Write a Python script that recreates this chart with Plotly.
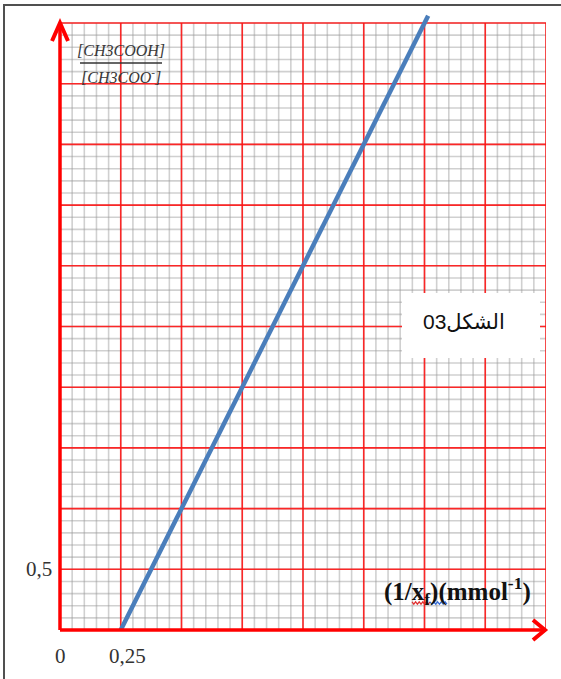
import numpy as np
import plotly.graph_objects as go

# Measured relation: ratio [CH3COOH]/[CH3COO-] against 1/xf (mmol^-1)
inv_xf = [0.25, 1.515]
ratio = [0.0, 5.06]

# Axis value labels
x_tick_vals = [0.0, 0.25]
x_tick_text = ["0", "0,25"]
y_tick_vals = [0.5]
y_tick_text = ["0,5"]

# Graph-paper extent and divisions
X_MAX, Y_MAX = 2.0, 5.0
X_MAJOR, Y_MAJOR = 0.25, 0.5
MINOR_DIV = 5
Y_TOP = 5.099  # a little headroom so the line can run past the paper

W, H = 561, 679
ML, MR, MT, MB = 60, 15, 11, 49
PW, PH = W - ML - MR, H - MT - MB


def px_to_paper(px, py):
    return (px - ML) / PW, (H - MB - py) / PH


def grid_trace(step_x, step_y, color, width):
    xs, ys = [], []
    nx = int(round(X_MAX / step_x))
    ny = int(round(Y_MAX / step_y))
    for i in range(nx + 1):
        x = i * step_x
        xs += [x, x, None]
        ys += [0, Y_MAX, None]
    for j in range(ny + 1):
        y = j * step_y
        xs += [0, X_MAX, None]
        ys += [y, y, None]
    return go.Scatter(x=xs, y=ys, mode="lines", hoverinfo="skip",
                      line=dict(color=color, width=width), showlegend=False)


def squiggle(x0_px, x1_px, y_px, amp=1.2, period=4):
    """Small wavy underline, returned as an SVG path in paper coords."""
    pts = []
    n = int((x1_px - x0_px) / (period / 2)) + 1
    for k in range(n + 1):
        xp = x0_px + k * (x1_px - x0_px) / n
        yp = y_px + (amp if k % 2 else -amp)
        px_, py_ = px_to_paper(xp, yp)
        pts.append(f"{'M' if k == 0 else 'L'} {px_} {py_}")
    return " ".join(pts)


fig = go.Figure()
fig.add_trace(grid_trace(X_MAJOR / MINOR_DIV, Y_MAJOR / MINOR_DIV,
                         "rgba(150,150,150,0.45)", 1.6))
fig.add_trace(grid_trace(X_MAJOR, Y_MAJOR, "rgba(255,20,20,0.9)", 1.6))

fig.add_trace(go.Scatter(x=inv_xf, y=ratio, mode="lines", hoverinfo="skip",
                         line=dict(color="#4a7ebb", width=4.5), showlegend=False))

shapes = []
axis_red = "#ff0000"
y_end = Y_MAX / Y_TOP  # paper fraction of the paper's top edge
# axes (paper refs so the thick strokes are not clipped)
shapes.append(dict(type="line", xref="paper", yref="paper", x0=0, y0=0, x1=1, y1=0,
                   line=dict(color=axis_red, width=3.5), layer="above"))
shapes.append(dict(type="line", xref="paper", yref="paper", x0=0, y0=0, x1=0, y1=y_end,
                   line=dict(color=axis_red, width=3.5), layer="above"))
# arrowheads (pixel-sized chevrons anchored at the axis ends)
shapes.append(dict(type="path", xref="paper", yref="paper", xsizemode="pixel", ysizemode="pixel",
                   xanchor=1, yanchor=0, path="M -13 -10 L -1 0 L -13 10",
                   line=dict(color=axis_red, width=4), layer="above"))
shapes.append(dict(type="path", xref="paper", yref="paper", xsizemode="pixel", ysizemode="pixel",
                   xanchor=0, yanchor=y_end, path="M -8 -18 L 0 0 L 8 -18",
                   line=dict(color=axis_red, width=4), layer="above"))

# caption box
bx0, by0 = px_to_paper(402, 358)
bx1, by1 = px_to_paper(540, 293)
shapes.append(dict(type="rect", xref="paper", yref="paper", x0=bx0, y0=by0, x1=bx1, y1=by1,
                   fillcolor="white", line=dict(width=0), layer="above"))

# fraction bar of the y label
fx0, fy = px_to_paper(80, 63)
fx1, _ = px_to_paper(162, 63)
shapes.append(dict(type="line", xref="paper", yref="paper", x0=fx0, y0=fy, x1=fx1, y1=fy,
                   line=dict(color="#333333", width=1.5), layer="above"))

# proofing squiggles under the x label subscript
shapes.append(dict(type="path", xref="paper", yref="paper", path=squiggle(412, 430, 603),
                   line=dict(color="#e03030", width=1.2), layer="above"))
shapes.append(dict(type="path", xref="paper", yref="paper", path=squiggle(430, 447, 603),
                   line=dict(color="#3a6fd8", width=1.2), layer="above"))

# page frame (top and left edges)
lx, ty = px_to_paper(4, 5)
rx, by = px_to_paper(620, 720)
shapes.append(dict(type="path", xref="paper", yref="paper",
                   path=f"M {lx} {by} L {lx} {ty} L {rx} {ty}",
                   line=dict(color="#505050", width=2), layer="above"))

serif = "Liberation Serif, Times New Roman, serif"
annotations = []
for v, t in zip(x_tick_vals, x_tick_text):
    annotations.append(dict(x=v, y=0, xref="x", yref="y", text=t, showarrow=False,
                            xanchor="center", yanchor="middle",
                            xshift=0 if v == 0 else 7, yshift=-26,
                            font=dict(family=serif, size=21, color="#333333")))
for v, t in zip(y_tick_vals, y_tick_text):
    annotations.append(dict(x=0, y=v, xref="x", yref="y", text=t, showarrow=False,
                            xanchor="right", yanchor="middle", xshift=-6, yshift=0,
                            font=dict(family=serif, size=21, color="#333333")))

tx, ty1 = px_to_paper(121, 50)
_, ty2 = px_to_paper(121, 76)
annotations.append(dict(x=tx, y=ty1, xref="paper", yref="paper", showarrow=False,
                        xanchor="center", yanchor="middle",
                        text="<i>[CH3COOH]</i>",
                        font=dict(family=serif, size=16, color="#383838")))
annotations.append(dict(x=tx, y=ty2, xref="paper", yref="paper", showarrow=False,
                        xanchor="center", yanchor="middle",
                        text="<i>[CH3COO<sup>-</sup>]</i>",
                        font=dict(family=serif, size=16, color="#383838")))

lx2, ly2 = px_to_paper(457, 591)
annotations.append(dict(x=lx2, y=ly2, xref="paper", yref="paper", showarrow=False,
                        xanchor="center", yanchor="middle",
                        text="<b>(1/x<sub>f</sub>)(mmol<sup>-1</sup>)</b>",
                        font=dict(family=serif, size=25, color="#111111")))

cx, cy = px_to_paper(464, 321)
annotations.append(dict(x=cx, y=cy, xref="paper", yref="paper", showarrow=False,
                        xanchor="center", yanchor="middle",
                        text="الشكل03",
                        font=dict(family="Liberation Sans, DejaVu Sans, sans-serif",
                                  size=21, color="#111111")))

fig.update_layout(
    width=W, height=H,
    margin=dict(l=ML, r=MR, t=MT, b=MB),
    paper_bgcolor="white", plot_bgcolor="white",
    xaxis=dict(range=[0, X_MAX], showgrid=False, zeroline=False,
               showticklabels=False, ticks="", showline=False, fixedrange=True),
    yaxis=dict(range=[0, Y_TOP], showgrid=False, zeroline=False,
               showticklabels=False, ticks="", showline=False, fixedrange=True),
    shapes=shapes, annotations=annotations, showlegend=False,
)

fig.write_html("out.html")
